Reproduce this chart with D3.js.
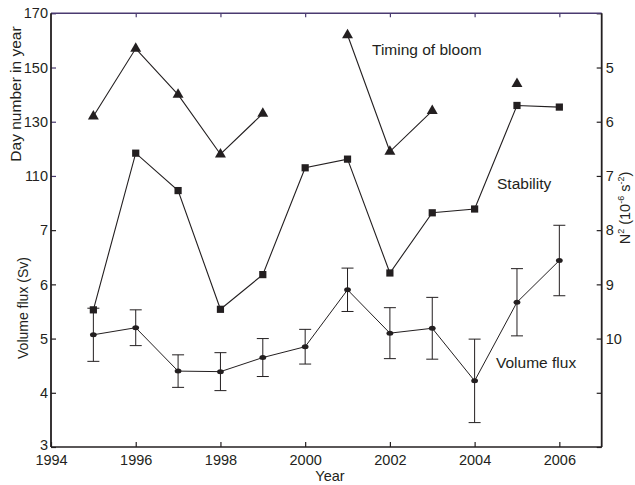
<!DOCTYPE html>
<html>
<head>
<meta charset="utf-8">
<script src="https://cdn.jsdelivr.net/npm/d3@7"></script>
<style>
  html, body { margin: 0; padding: 0; background: #fff; }
  svg { display: block; }
  text { font-family: "Liberation Sans", Arial, Helvetica, sans-serif; fill: #231f20; }
</style>
</head>
<body>
<svg id="chart" width="635" height="485"></svg>
<script>
// Years of observation
const years = [1995, 1996, 1997, 1998, 1999, 2000, 2001, 2002, 2003, 2004, 2005, 2006];

// Timing of the spring bloom (day number in year); null = no estimate
const bloomDay = [132, 157, 140, 118, 133, null, 162, 119, 134, null, 144, null];

// Stratification / stability N^2 (10^-6 s^-2)
const stabilityN2 = [9.47, 6.58, 7.27, 9.46, 8.82, 6.85, 6.69, 8.79, 7.68, 7.61, 5.70, 5.73];

// Volume flux (Sv) and its error half-width
const volumeFlux = [5.07, 5.20, 4.40, 4.39, 4.65, 4.85, 5.90, 5.10, 5.19, 4.22, 5.67, 6.44];
const volumeErr  = [0.49, 0.33, 0.30, 0.35, 0.35, 0.32, 0.40, 0.47, 0.57, 0.77, 0.62, 0.65];

// Axis ticks
const yearTicks = [1994, 1996, 1998, 2000, 2002, 2004, 2006];
const fluxTicks = [3, 4, 5, 6, 7];
const dayTicks = [110, 130, 150, 170];
const n2Ticks = [4, 5, 6, 7, 8, 9, 10, 11, 12];
const n2Labelled = [5, 6, 7, 8, 9, 10];

const svg = d3.select("#chart");
const plotL = 51, plotR = 601.7, plotT = 13.3, plotB = 447;
const ink = "#231f20";
const purple = "#4a3a70";

const x = d3.scaleLinear().domain([1994, 2007]).range([plotL, plotR]);
const yFlux = d3.scaleLinear().domain([3, 11]).range([plotB, plotT]);
const yDay = d3.scaleLinear().domain([10, 170]).range([plotB, plotT]);
const yN2 = d3.scaleLinear().domain([4, 12]).range([plotT, plotB]);

function styleAxis(g, tickColor) {
  g.select(".domain").remove();
  g.selectAll(".tick line").attr("stroke", tickColor).attr("stroke-width", 1.2);
  g.selectAll(".tick text")
    .attr("fill", ink)
    .style("font-size", "14.5px")
    .style("font-family", "'Liberation Sans', Arial, sans-serif");
}

// Bottom axis (years)
svg.append("g").attr("transform", `translate(0,${plotB})`)
  .call(d3.axisBottom(x).tickValues(yearTicks).tickFormat(d3.format("d")).tickSizeInner(-5).tickSizeOuter(0).tickPadding(8))
  .call(g => styleAxis(g, ink));

// Top axis ticks (no labels)
svg.append("g").attr("transform", `translate(0,${plotT})`)
  .call(d3.axisTop(x).tickValues(yearTicks.slice(1)).tickFormat("").tickSizeInner(-4).tickSizeOuter(0))
  .call(g => styleAxis(g, purple));

// Left axis: volume flux part
svg.append("g").attr("transform", `translate(${plotL},0)`)
  .call(d3.axisLeft(yFlux).tickValues(fluxTicks).tickFormat(d3.format("d")).tickSizeInner(-5).tickSizeOuter(0).tickPadding(3))
  .call(g => styleAxis(g, ink))
  .call(g => g.selectAll(".tick text").filter(d => d === 3).attr("dy", "0.18em"));

// Left axis: day number part
svg.append("g").attr("transform", `translate(${plotL},0)`)
  .call(d3.axisLeft(yDay).tickValues(dayTicks).tickFormat(d3.format("d")).tickSizeInner(-5).tickSizeOuter(0).tickPadding(3))
  .call(g => styleAxis(g, purple));

// Right axis: N^2
svg.append("g").attr("transform", `translate(${plotR},0)`)
  .call(d3.axisRight(yN2).tickValues(n2Ticks)
    .tickFormat(d => n2Labelled.includes(d) ? d3.format("d")(d) : "")
    .tickSizeInner(-5).tickSizeOuter(0).tickPadding(4))
  .call(g => styleAxis(g, ink));

// Frame
svg.append("line").attr("x1", plotL).attr("x2", plotR).attr("y1", plotB).attr("y2", plotB)
  .attr("stroke", ink).attr("stroke-width", 1.3);
svg.append("line").attr("x1", plotL).attr("x2", plotR).attr("y1", plotT).attr("y2", plotT)
  .attr("stroke", purple).attr("stroke-width", 1.5);
svg.append("line").attr("x1", plotL).attr("x2", plotL).attr("y1", plotT).attr("y2", plotB)
  .attr("stroke", ink).attr("stroke-width", 1.8);
svg.append("line").attr("x1", plotR).attr("x2", plotR).attr("y1", plotT).attr("y2", plotB)
  .attr("stroke", ink).attr("stroke-width", 1.8);

const plot = svg.append("g");

// Volume flux: error bars, line, dots
const flux = years.map((yr, i) => ({ yr, v: volumeFlux[i], e: volumeErr[i] }));
const eb = plot.append("g").attr("stroke", ink).attr("stroke-width", 1);
flux.forEach(d => {
  eb.append("line").attr("x1", x(d.yr)).attr("x2", x(d.yr)).attr("y1", yFlux(d.v - d.e)).attr("y2", yFlux(d.v + d.e));
  [d.v - d.e, d.v + d.e].forEach(vv => {
    eb.append("line").attr("x1", x(d.yr) - 6).attr("x2", x(d.yr) + 6).attr("y1", yFlux(vv)).attr("y2", yFlux(vv));
  });
});
plot.append("path").datum(flux)
  .attr("fill", "none").attr("stroke", ink).attr("stroke-width", 1)
  .attr("d", d3.line().x(d => x(d.yr)).y(d => yFlux(d.v)));
plot.selectAll(".fluxDot").data(flux).join("ellipse")
  .attr("cx", d => x(d.yr)).attr("cy", d => yFlux(d.v)).attr("rx", 3.4).attr("ry", 2.5).attr("fill", ink);

// Stability: line and squares
const stab = years.map((yr, i) => ({ yr, v: stabilityN2[i] }));
plot.append("path").datum(stab)
  .attr("fill", "none").attr("stroke", ink).attr("stroke-width", 1.1)
  .attr("d", d3.line().x(d => x(d.yr)).y(d => yN2(d.v)));
plot.selectAll(".sq").data(stab).join("rect")
  .attr("x", d => x(d.yr) - 3.6).attr("y", d => yN2(d.v) - 3.6)
  .attr("width", 7.2).attr("height", 7.2).attr("fill", ink);

// Timing of bloom: broken line and triangles
const bloom = years.map((yr, i) => ({ yr, v: bloomDay[i] }));
plot.append("path").datum(bloom)
  .attr("fill", "none").attr("stroke", ink).attr("stroke-width", 1.1)
  .attr("d", d3.line().defined(d => d.v !== null).x(d => x(d.yr)).y(d => yDay(d.v)));
const tri = d3.symbol().type(d3.symbolTriangle).size(52);
plot.selectAll(".tri").data(bloom.filter(d => d.v !== null)).join("path")
  .attr("transform", d => `translate(${x(d.yr)},${yDay(d.v)})`)
  .attr("d", tri).attr("fill", ink);

// Series annotations
const ann = svg.append("g").style("font-size", "15.5px");
ann.append("text").attr("x", 372).attr("y", 55).text("Timing of bloom");
ann.append("text").attr("x", 497).attr("y", 189).text("Stability");
ann.append("text").attr("x", 496).attr("y", 368).text("Volume flux");

// Axis titles
svg.append("text").attr("x", 330).attr("y", 481).attr("text-anchor", "middle")
  .style("font-size", "14.5px").text("Year");
svg.append("text").attr("transform", "translate(21,94) rotate(-90)").attr("text-anchor", "middle")
  .style("font-size", "15.5px").text("Day number in year");
svg.append("text").attr("transform", "translate(28,308) rotate(-90)").attr("text-anchor", "middle")
  .style("font-size", "14px").text("Volume flux (Sv)");

const n2 = svg.append("text").attr("transform", "translate(630,208) rotate(-90)").attr("text-anchor", "middle")
  .style("font-size", "14.5px");
n2.append("tspan").text("N");
n2.append("tspan").attr("dy", -6).style("font-size", "9px").text("2");
n2.append("tspan").attr("dy", 6).text(" (10");
n2.append("tspan").attr("dy", -6).style("font-size", "9px").text("-6");
n2.append("tspan").attr("dy", 6).text(" s");
n2.append("tspan").attr("dy", -6).style("font-size", "9px").text("-2");
n2.append("tspan").attr("dy", 6).text(")");
</script>
</body>
</html>
